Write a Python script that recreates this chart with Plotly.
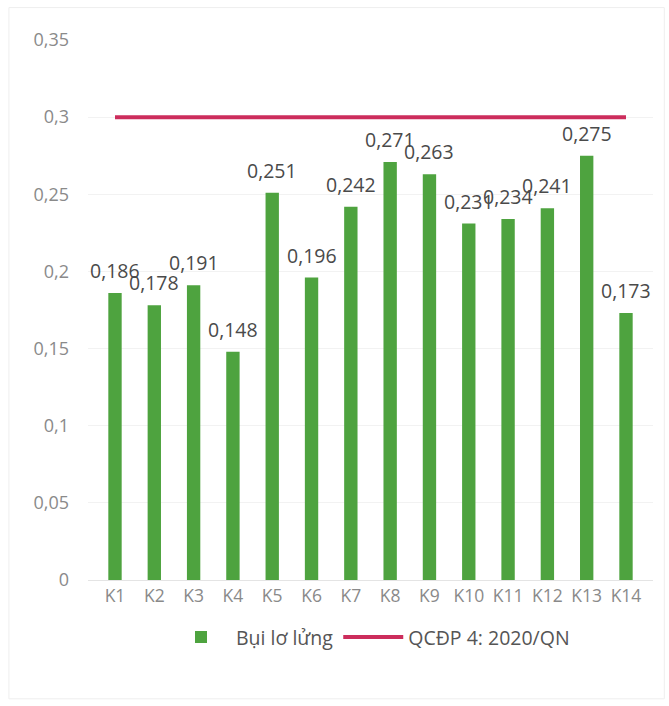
import plotly.graph_objects as go

stations = ["K1", "K2", "K3", "K4", "K5", "K6", "K7", "K8", "K9", "K10", "K11", "K12", "K13", "K14"]
dust = [0.186, 0.178, 0.191, 0.148, 0.251, 0.196, 0.242, 0.271, 0.263, 0.231, 0.234, 0.241, 0.275, 0.173]
limit = [0.3] * len(stations)
labels = [f"{v:.3f}".replace(".", ",") for v in dust]

fig = go.Figure()
fig.add_trace(go.Bar(
    x=stations, y=dust, name="Bụi lơ lửng",
    marker=dict(color="#4ea33f", line=dict(width=0)),
))
fig.add_trace(go.Scatter(
    x=stations, y=limit, name="QCĐP 4: 2020/QN", mode="lines",
    line=dict(color="#cc2d5c", width=4),
))

# value labels above each bar
for s, v, t in zip(stations, dust, labels):
    fig.add_annotation(x=s, y=v, text=t, showarrow=False, yanchor="bottom", yshift=7,
                       font=dict(size=19.5, color="#4a4a4a", family="Open Sans"))

fig.update_layout(
    width=669, height=706,
    margin=dict(l=88, r=16, t=40, b=126),
    paper_bgcolor="white", plot_bgcolor="white",
    separators=", ",
    bargap=0.66,
    font=dict(family="Open Sans", color="#888888", size=15),
    showlegend=True,
    legend=dict(orientation="h", x=0.5, xanchor="center", y=-0.07, yanchor="top",
                font=dict(size=19.5, color="#555555"), itemwidth=60),
    shapes=[dict(type="rect", xref="paper", yref="paper", x0=-0.14, x1=1.02, y0=-0.22, y1=1.06,
                 line=dict(color="#eeeeee", width=1))],
)
fig.update_yaxes(range=[0, 0.35], dtick=0.05, tickformat=".2~f", showgrid=True,
                 gridcolor="#f2f2f2", zeroline=False, showline=False, ticks="",
                 ticklabelstandoff=18, tickfont=dict(size=18, color="#8a8a8a"))
fig.update_xaxes(showgrid=False, showline=True, linecolor="#e4e4e4", ticks="",
                 tickfont=dict(size=17.5, color="#8a8a8a"))

fig.write_html("out.html")
